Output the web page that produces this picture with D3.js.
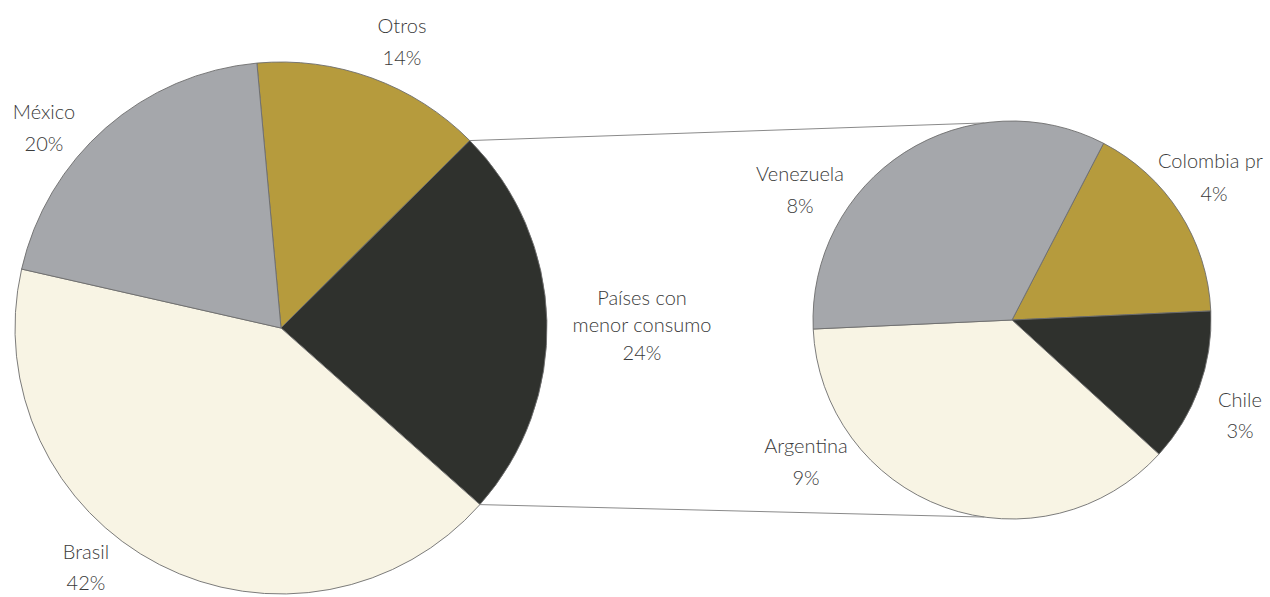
<!DOCTYPE html>
<html>
<head>
<meta charset="utf-8">
<script src="https://cdn.jsdelivr.net/npm/d3@7"></script>
<style>
  html, body { margin: 0; padding: 0; background: #ffffff; }
  svg { display: block; }
  text { font-family: "Lato", "Open Sans", sans-serif; font-weight: 300; fill: #3a3a3a; }
</style>
</head>
<body>
<svg id="chart" width="1270" height="597"></svg>
<script>
// Consumo por país: pastel principal y desglose de los países con menor consumo
const mainCategories = ["Otros", "Países con menor consumo", "Brasil", "México"];
const mainValues = [14, 24, 42, 20];

const detailCategories = ["Colombia pr", "Chile", "Argentina", "Venezuela"];
const detailValues = [4, 3, 9, 8];

const deg = Math.PI / 180;
const colors = {
  "Otros": "#b69b3d",
  "Países con menor consumo": "#2f312d",
  "Brasil": "#f8f4e4",
  "México": "#a5a7ab",
  "Colombia pr": "#b69b3d",
  "Chile": "#2f312d",
  "Argentina": "#f8f4e4",
  "Venezuela": "#a5a7ab"
};

// Layout of the two pies
const mainPie = { cx: 281, cy: 328, r: 266, start: -5.2 * deg };
const detailPie = { cx: 1012, cy: 320, r: 199, start: 27.4 * deg };

// Label anchors (centre of the first line) and line spacing
const labelPos = {
  "Otros": { x: 402, y: 28, gap: 32 },
  "México": { x: 44, y: 114, gap: 32 },
  "Brasil": { x: 86, y: 554, gap: 31 },
  "Países con menor consumo": { x: 642, y: 300, gap: 27.5, lines: ["Países con", "menor consumo"] },
  "Venezuela": { x: 800, y: 176, gap: 32 },
  "Colombia pr": { x: 1214, y: 163, gap: 33, nameX: 1158, nameAnchor: "start" },
  "Chile": { x: 1240, y: 402, gap: 31 },
  "Argentina": { x: 806, y: 448, gap: 32 }
};

const svg = d3.select("#chart");

function drawPie(cats, vals, cfg) {
  const data = cats.map((c, i) => ({ name: c, value: vals[i] }));
  const arcs = d3.pie()
    .sort(null)
    .value(d => d.value)
    .startAngle(cfg.start)
    .endAngle(cfg.start + 2 * Math.PI)(data);
  const arc = d3.arc().innerRadius(0).outerRadius(cfg.r);
  const g = svg.append("g").attr("transform", `translate(${cfg.cx},${cfg.cy})`);
  g.selectAll("path")
    .data(arcs)
    .join("path")
    .attr("d", arc)
    .attr("fill", d => colors[d.data.name])
    .attr("stroke", "#6d6d6d")
    .attr("stroke-width", 0.9)
    .attr("stroke-linejoin", "round");
  return arcs;
}

function pointOn(cfg, angle) {
  return [cfg.cx + cfg.r * Math.sin(angle), cfg.cy - cfg.r * Math.cos(angle)];
}

const mainArcs = drawPie(mainCategories, mainValues, mainPie);
const detailArcs = drawPie(detailCategories, detailValues, detailPie);

// Connector lines from the exploded slice to the detail pie
const exploded = mainArcs.find(a => a.data.name === "Países con menor consumo");
const topA = pointOn(mainPie, exploded.startAngle);
const botA = pointOn(mainPie, exploded.endAngle);
const topB = pointOn(detailPie, -8 * deg);
const botB = pointOn(detailPie, 188 * deg);
svg.append("line")
  .attr("x1", topA[0]).attr("y1", topA[1]).attr("x2", topB[0]).attr("y2", topB[1])
  .attr("stroke", "#8a8a8a").attr("stroke-width", 1);
svg.append("line")
  .attr("x1", botA[0]).attr("y1", botA[1]).attr("x2", botB[0]).attr("y2", botB[1])
  .attr("stroke", "#8a8a8a").attr("stroke-width", 1);

// Labels: category name(s) and percentage
function drawLabels(arcs) {
  arcs.forEach(a => {
    const p = labelPos[a.data.name];
    const names = p.lines || [a.data.name];
    const lines = names.concat([a.data.value + "%"]);
    lines.forEach((t, i) => {
      const isName = i < names.length;
      svg.append("text")
        .attr("x", isName && p.nameX !== undefined ? p.nameX : p.x)
        .attr("y", p.y + i * p.gap)
        .attr("text-anchor", isName && p.nameAnchor ? p.nameAnchor : "middle")
        .attr("dominant-baseline", "middle")
        .attr("font-size", 20)
        .text(t);
    });
  });
}
drawLabels(mainArcs);
drawLabels(detailArcs);
</script>
</body>
</html>
